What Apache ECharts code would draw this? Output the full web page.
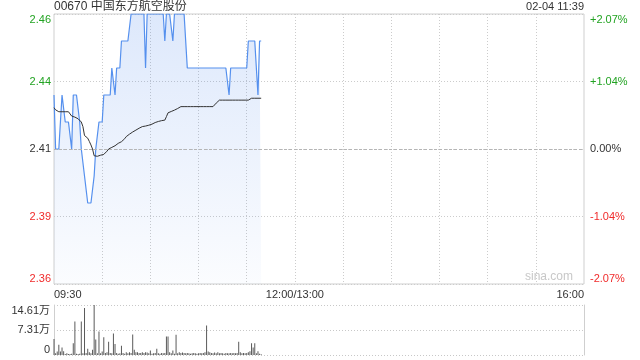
<!DOCTYPE html>
<html><head><meta charset="utf-8">
<script src="https://cdn.jsdelivr.net/npm/echarts@6/dist/echarts.min.js"></script>
<style>html,body{margin:0;padding:0;background:#fff}#c{width:640px;height:360px}</style>
</head><body><div id="c"></div>
<script>
const stockTitle = '00670 中国东方航空股份';
const stamp = '02-04 11:39';
const watermark = 'sina.com';
const prevClose = 2.41;
const timeTicks = ['09:30', '12:00/13:00', '16:00'];
const priceTicks = ['2.36', '2.39', '2.41', '2.44', '2.46'];
const pctTicks = ['-2.07%', '-1.04%', '0.00%', '+1.04%', '+2.07%'];
const volTicks = ['0', '7.31万', '14.61万'];
const volMax = 14.61;

// minute-by-minute last price, 09:30 .. 11:39
const price = [
  2.43, 2.41, 2.41, 2.41, 2.41, 2.43, 2.43, 2.42, 2.42, 2.42,
  2.42, 2.41, 2.43, 2.43, 2.43, 2.43, 2.42, 2.41, 2.41, 2.40,
  2.40, 2.39, 2.39, 2.39, 2.39, 2.40, 2.41, 2.41, 2.42, 2.42,
  2.42, 2.43, 2.43, 2.43, 2.43, 2.43, 2.44, 2.44, 2.43, 2.44,
  2.44, 2.44, 2.45, 2.45, 2.45, 2.45, 2.45, 2.45, 2.46, 2.46,
  2.46, 2.46, 2.46, 2.46, 2.46, 2.46, 2.46, 2.44, 2.46, 2.46,
  2.46, 2.46, 2.46, 2.46, 2.46, 2.46, 2.46, 2.46, 2.46, 2.45,
  2.46, 2.46, 2.46, 2.46, 2.45, 2.46, 2.46, 2.46, 2.46, 2.46,
  2.46, 2.46, 2.46, 2.44, 2.44, 2.44, 2.44, 2.44, 2.44, 2.44,
  2.44, 2.44, 2.44, 2.44, 2.44, 2.44, 2.44, 2.44, 2.44, 2.44,
  2.44, 2.44, 2.44, 2.44, 2.44, 2.44, 2.44, 2.44, 2.44, 2.43,
  2.44, 2.44, 2.44, 2.44, 2.44, 2.44, 2.44, 2.44, 2.44, 2.44,
  2.44, 2.45, 2.45, 2.45, 2.45, 2.45, 2.45, 2.43, 2.45, 2.45
];

// average price
const avgPrice = [
  2.4253, 2.4245, 2.4240, 2.4238, 2.4238, 2.4238, 2.4238, 2.4238, 2.4238, 2.4238,
  2.4236, 2.4222, 2.4220, 2.4218, 2.4215, 2.4212, 2.4205, 2.4200, 2.4183, 2.4150,
  2.4145, 2.4140, 2.4128, 2.4115, 2.4100, 2.4075, 2.4071, 2.4073, 2.4075, 2.4077,
  2.4079, 2.4080, 2.4085, 2.4092, 2.4100, 2.4103, 2.4106, 2.4109, 2.4112, 2.4116,
  2.4121, 2.4124, 2.4127, 2.4130, 2.4138, 2.4146, 2.4150, 2.4155, 2.4160, 2.4163,
  2.4167, 2.4170, 2.4173, 2.4177, 2.4180, 2.4183, 2.4184, 2.4185, 2.4187, 2.4188,
  2.4189, 2.4192, 2.4195, 2.4198, 2.4201, 2.4202, 2.4203, 2.4205, 2.4206, 2.4207,
  2.4220, 2.4234, 2.4236, 2.4239, 2.4242, 2.4244, 2.4247, 2.4250, 2.4254, 2.4257,
  2.4257, 2.4257, 2.4257, 2.4257, 2.4257, 2.4257, 2.4257, 2.4257, 2.4257, 2.4257,
  2.4257, 2.4257, 2.4257, 2.4257, 2.4257, 2.4257, 2.4257, 2.4257, 2.4257, 2.4257,
  2.4262, 2.4270, 2.4275, 2.4281, 2.4281, 2.4281, 2.4281, 2.4281, 2.4281, 2.4281,
  2.4281, 2.4281, 2.4281, 2.4281, 2.4281, 2.4281, 2.4281, 2.4281, 2.4281, 2.4281,
  2.4281, 2.4281, 2.4288, 2.4288, 2.4288, 2.4288, 2.4288, 2.4288, 2.4288, 2.4288
];

// volume per minute, in 万 shares
const volume = [
  4.7, 0.5, 1.0, 3.0, 1.0, 2.2, 1.1, 0.3, 0.5, 0.3,
  0.3, 0.4, 3.4, 9.8, 0.4, 0.3, 0.4, 9.8, 0.5, 13.7,
  0.6, 1.8, 0.8, 0.5, 1.5, 14.61, 4.5, 0.5, 6.9, 0.5,
  1.0, 5.2, 0.6, 0.8, 3.9, 0.6, 0.5, 6.3, 3.2, 0.6,
  0.4, 0.5, 2.7, 0.6, 0.4, 0.8, 0.5, 0.8, 0.6, 6.0,
  1.5, 0.8, 0.8, 0.6, 0.6, 0.8, 0.6, 0.8, 0.7, 0.5,
  1.3, 0.4, 0.5, 0.6, 1.8, 0.5, 0.4, 0.6, 0.5, 0.6,
  5.4, 5.4, 0.8, 0.5, 1.3, 0.4, 5.9, 0.5, 0.8, 0.6,
  0.7, 0.6, 0.5, 0.6, 0.5, 0.4, 0.5, 0.6, 0.5, 0.4,
  0.5, 0.6, 0.5, 0.6, 0.8, 8.6, 1.0, 0.8, 0.6, 0.5,
  0.7, 0.5, 0.8, 0.5, 0.6, 0.5, 0.4, 0.6, 0.5, 0.5,
  0.6, 0.5, 0.6, 0.5, 0.6, 3.9, 0.8, 0.5, 0.6, 0.5,
  0.6, 0.8, 1.1, 3.4, 2.2, 3.4, 0.5, 1.1, 0.4, 0.2
];

// minute slots of the whole trading day: 09:30-12:00 / 13:00-16:00
const categories = [];
for (let i = 0; i <= 330; i++) {
  let t;
  if (i < 150) t = 570 + i; else if (i === 150) t = -1; else t = 780 + (i - 150);
  categories.push(t < 0 ? '12:00/13:00' : String(Math.floor(t / 60)).padStart(2, '0') + ':' + String(t % 60).padStart(2, '0'));
}
const labelAt = {0: timeTicks[0], 150: timeTicks[1], 330: timeTicks[2]};

const STEP = 0.025;
const priceOff = price.map(p => +(p - prevClose).toFixed(4));
const avgOff = avgPrice.map(p => +(p - prevClose).toFixed(4));
const tickIdx = v => Math.round(Number(v) / STEP) + 2;
const upDownColor = v => { v = Number(v); return v > 0.001 ? '#22a322' : (v < -0.001 ? '#f02b2b' : '#333'); };

const FONT = '"Liberation Sans", Arial, "Noto Sans CJK SC", sans-serif';
const chart = echarts.init(document.getElementById('c'), null, {renderer: 'canvas'});
chart.setOption({
  animation: false,
  backgroundColor: '#fff',
  textStyle: {fontFamily: FONT},
  title: [
    {text: stockTitle, left: 54, top: 1, padding: 0, textStyle: {fontSize: 12, fontWeight: 'normal', color: '#333', fontFamily: FONT}},
    {text: stamp, right: 56, top: 1, padding: 0, textStyle: {fontSize: 11, fontWeight: 'normal', color: '#333', fontFamily: FONT}}
  ],
  graphic: [{type: 'text', right: 67, top: 271, silent: true,
    style: {text: watermark, fill: '#c8c8c8', font: '12px ' + FONT}}],
  grid: [
    {left: 54, right: 56, top: 14, height: 270, show: true, borderColor: '#cfcfcf', borderWidth: 1, backgroundColor: 'transparent'},
    {left: 54, right: 56, top: 305, height: 50}
  ],
  xAxis: [
    {type: 'category', gridIndex: 0, data: categories, boundaryGap: false,
      axisLine: {show: false}, axisTick: {show: false},
      axisLabel: {interval: i => (i in labelAt), formatter: (v, i) => labelAt[i] || '', color: '#333', fontSize: 11, margin: 5,
        alignMinLabel: 'left', alignMaxLabel: 'right', hideOverlap: false},
      splitLine: {show: true, interval: i => i % 30 === 0 && i > 0 && i < 330, lineStyle: {color: '#cccccc', type: [1, 2], width: 1}}},
    {type: 'category', gridIndex: 1, data: categories, boundaryGap: false,
      axisLine: {show: false}, axisTick: {show: false}, axisLabel: {show: false}, splitLine: {show: false}}
  ],
  yAxis: [
    {type: 'value', gridIndex: 0, position: 'left', min: -2 * STEP, max: 2 * STEP, interval: STEP,
      axisLine: {show: false}, axisTick: {show: false},
      axisLabel: {formatter: v => priceTicks[tickIdx(v)], color: upDownColor, fontSize: 11, margin: 3,
        verticalAlignMinLabel: 'bottom', verticalAlignMaxLabel: 'top'},
      splitLine: {show: true, lineStyle: {color: '#cccccc', type: [1, 2], width: 1}}},
    {type: 'value', gridIndex: 0, position: 'right', min: -2 * STEP, max: 2 * STEP, interval: STEP,
      axisLine: {show: false}, axisTick: {show: false},
      axisLabel: {formatter: v => pctTicks[tickIdx(v)], color: upDownColor, fontSize: 11, margin: 6,
        verticalAlignMinLabel: 'bottom', verticalAlignMaxLabel: 'top'},
      splitLine: {show: false}},
    {type: 'value', gridIndex: 1, position: 'left', min: 0, max: volMax, interval: volMax / 2,
      axisLine: {show: true, lineStyle: {color: '#cfcfcf'}}, axisTick: {show: false},
      axisLabel: {formatter: v => volTicks[Math.round(Number(v) / (volMax / 2))], color: '#333', fontSize: 11, margin: 4,
        verticalAlignMinLabel: 'bottom', verticalAlignMaxLabel: 'top'},
      splitLine: {show: true, lineStyle: {color: '#c8c8c8', type: [1, 2], width: 1}}},
    {type: 'value', gridIndex: 1, position: 'right', min: 0, max: volMax, interval: volMax / 2,
      axisLine: {show: true, lineStyle: {color: '#cfcfcf'}}, axisTick: {show: false}, axisLabel: {show: false}, splitLine: {show: false}}
  ],
  series: [
    {type: 'line', name: 'price', xAxisIndex: 0, yAxisIndex: 0, data: priceOff, showSymbol: false, symbol: 'none',
      lineStyle: {color: '#5590ee', width: 1.2},
      areaStyle: {origin: 'start', color: new echarts.graphic.LinearGradient(0, 0, 0, 1, [
        {offset: 0, color: 'rgba(70,130,235,0.26)'}, {offset: 1, color: 'rgba(70,130,235,0.03)'}])},
      z: 3},
    {type: 'line', name: 'avg', xAxisIndex: 0, yAxisIndex: 0, data: avgOff, showSymbol: false, symbol: 'none',
      lineStyle: {color: '#333', width: 1}, z: 4,
      markLine: {silent: true, symbol: 'none', label: {show: false},
        lineStyle: {color: '#b5b5b5', type: [3, 2], width: 1}, data: [{yAxis: 0}]}},
    {type: 'bar', name: 'vol', xAxisIndex: 1, yAxisIndex: 2, data: volume, barWidth: 1,
      itemStyle: {color: '#5a5a5a'}}
  ]
});
</script></body></html>
